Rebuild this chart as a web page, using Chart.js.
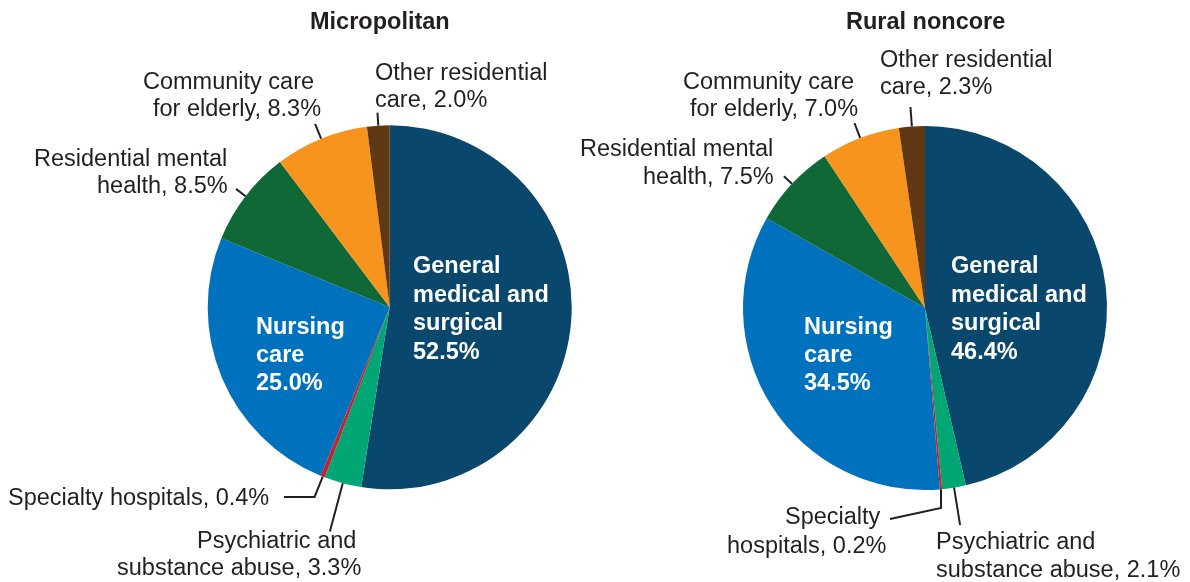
<!DOCTYPE html>
<html>
<head>
<meta charset="utf-8">
<title>Micropolitan vs rural noncore</title>
<script src="https://cdn.jsdelivr.net/npm/chart.js@4"></script>
<style>
  html, body { margin: 0; padding: 0; background: #fff; }
  #wrap { position: relative; width: 1190px; height: 582px; }
  #wrap canvas { position: absolute; top: 0; left: 0; }
</style>
</head>
<body>
<div id="wrap">
  <canvas id="micro" width="1190" height="582"></canvas>
  <canvas id="rural" width="1190" height="582"></canvas>
</div>
<script>
// --- data ---
const categories = [
    'General medical and surgical',
    'Psychiatric and substance abuse',
    'Specialty hospitals',
    'Nursing care',
    'Residential mental health',
    'Community care for elderly',
    'Other residential care'
];
const microValues = [52.5, 3.3, 0.4, 25.0, 8.5, 8.3, 2.0];
const ruralValues = [46.4, 2.1, 0.2, 34.5, 7.5, 7.0, 2.3];
const sliceColors = ['#09476d', '#00a674', '#c8202f', '#0071bc', '#116837', '#f7941d', '#603813'];

const FONT = '23.5px "Liberation Sans", Arial, Helvetica, sans-serif';
const TEXT = '#231f20';

// label layout (page coordinates); {v} is replaced by the slice value
const microLayout = {
    title: { text: 'Micropolitan', x: 310, y: 29 },
    labels: [
        { i: 0, inside: true, lines: ['General', 'medical and', 'surgical', '{v}'], x: 413, y: 273, lh: 28.5 },
        { i: 3, inside: true, lines: ['Nursing', 'care', '{v}'], x: 256, y: 334, lh: 28 },
        { i: 1, lines: ['Psychiatric and', 'substance abuse, {v}'], x: [197, 117], y: 548, lh: 27, len: 50 },
        { i: 2, lines: ['Specialty hospitals, {v}'], x: 8, y: 505, lh: 27, len: 22, to: [[284, 497]] },
        { i: 4, lines: ['Residential mental', 'health, {v}'], x: [34, 97], y: 166, lh: 27, len: 12 },
        { i: 5, lines: ['Community care', 'for elderly, {v}'], x: [143, 153], y: 89, lh: 27, len: 16 },
        { i: 6, lines: ['Other residential', 'care, {v}'], x: 375, y: 80, lh: 27, len: 13 }
    ]
};
const ruralLayout = {
    title: { text: 'Rural noncore', x: 846, y: 29 },
    labels: [
        { i: 0, inside: true, lines: ['General', 'medical and', 'surgical', '{v}'], x: 951, y: 273, lh: 28.5 },
        { i: 3, inside: true, lines: ['Nursing', 'care', '{v}'], x: 804, y: 334, lh: 28 },
        { i: 1, lines: ['Psychiatric and', 'substance abuse, {v}'], x: 936, y: 549, lh: 28, len: 38 },
        { i: 2, lines: ['Specialty', 'hospitals, {v}'], x: [785, 727], y: 524, lh: 29, len: 0, to: [[941, 508], [890, 519]] },
        { i: 4, lines: ['Residential mental', 'health, {v}'], x: [580, 643], y: 156, lh: 28, len: 11 },
        { i: 5, lines: ['Community care', 'for elderly, {v}'], x: [683, 690], y: 89, lh: 27, len: 16 },
        { i: 6, lines: ['Other residential', 'care, {v}'], x: 880, y: 67, lh: 27, len: 19.5 }
    ]
};

function makeLabels(layout) {
    return {
        id: 'pieLabels',
        afterDatasetsDraw(chart) {
            const ctx = chart.ctx;
            const arcs = chart.getDatasetMeta(0).data;
            const values = chart.data.datasets[0].data;
            ctx.save();
            ctx.textBaseline = 'alphabetic';
            ctx.textAlign = 'left';

            ctx.font = 'bold ' + FONT;
            ctx.fillStyle = TEXT;
            ctx.fillText(layout.title.text, layout.title.x, layout.title.y);

            layout.labels.forEach(l => {
                const arc = arcs[l.i];
                const pct = values[l.i].toFixed(1) + '%';
                if (l.len !== undefined) {
                    // leader starts on the slice edge at its mid angle
                    const p = arc.getProps(['x', 'y', 'startAngle', 'endAngle', 'outerRadius'], true);
                    const mid = (p.startAngle + p.endAngle) / 2;
                    const sx = p.x + Math.cos(mid) * p.outerRadius;
                    const sy = p.y + Math.sin(mid) * p.outerRadius;
                    ctx.beginPath();
                    ctx.moveTo(sx, sy);
                    ctx.lineTo(sx + Math.cos(mid) * l.len, sy + Math.sin(mid) * l.len);
                    (l.to || []).forEach(pt => ctx.lineTo(pt[0], pt[1]));
                    ctx.strokeStyle = TEXT;
                    ctx.lineWidth = 2;
                    ctx.stroke();
                }
                ctx.font = (l.inside ? 'bold ' : '') + FONT;
                ctx.fillStyle = l.inside ? '#ffffff' : TEXT;
                l.lines.forEach((t, k) => {
                    const x = Array.isArray(l.x) ? l.x[k] : l.x;
                    ctx.fillText(t.replace('{v}', pct), x, l.y + k * l.lh);
                });
            });
            ctx.restore();
        }
    };
}

function makePie(id, values, layout, padding) {
    return new Chart(document.getElementById(id), {
        type: 'pie',
        data: {
            labels: categories,
            datasets: [{
                data: values,
                backgroundColor: sliceColors,
                borderWidth: 0
            }]
        },
        options: {
            responsive: false,
            animation: false,
            layout: { padding },
            plugins: {
                legend: { display: false },
                tooltip: { enabled: false }
            }
        },
        plugins: [makeLabels(layout)]
    });
}

makePie('micro', microValues, microLayout, { left: 207.7, right: 618.3, top: 125.3, bottom: 92.7 });
makePie('rural', ruralValues, ruralLayout, { left: 743, right: 83, top: 126, bottom: 92 });
</script>
</body>
</html>
